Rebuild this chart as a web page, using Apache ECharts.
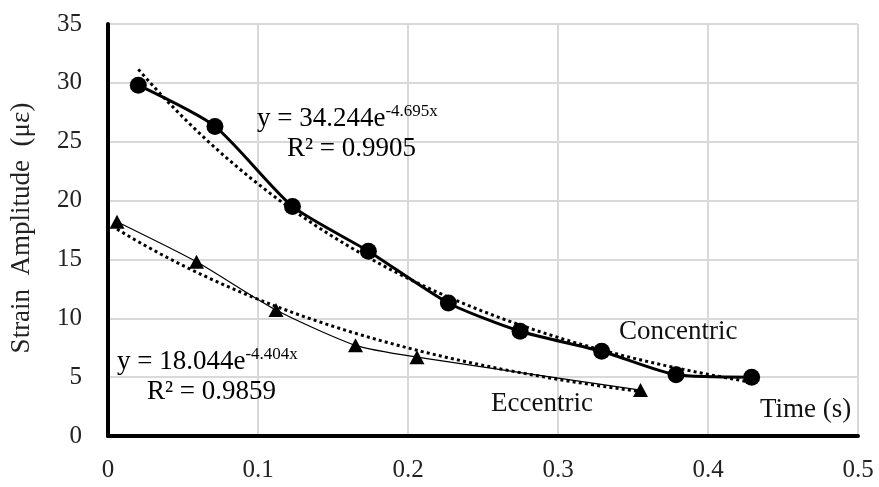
<!DOCTYPE html>
<html>
<head>
<meta charset="utf-8">
<script src="https://cdn.jsdelivr.net/npm/echarts@6/dist/echarts.min.js"></script>
<style>
  html, body { margin: 0; padding: 0; background: #fff; }
  #chart { width: 879px; height: 487px; }
</style>
</head>
<body>
<div id="chart"></div>
<script>
// Measured strain amplitude decay (με) against time (s)
const concTime   = [0.0202, 0.0713, 0.123, 0.1736, 0.2269, 0.2747, 0.3291, 0.3787, 0.4291];
const concStrain = [29.8, 26.3, 19.5, 15.7, 11.3, 8.9, 7.2, 5.2, 5.0];
const eccTime    = [0.006, 0.059, 0.112, 0.165, 0.206, 0.355];
const eccStrain  = [18.2, 14.8, 10.7, 7.7, 6.7, 3.9];

// Exponential trendline coefficients y = a·e^(b·x) and R²
const concFit = [34.244, -4.695, 0.9905];
const eccFit  = [18.044, -4.404, 0.9859];

const xTicks = [0, 0.1, 0.2, 0.3, 0.4, 0.5];
const yTicks = [0, 5, 10, 15, 20, 25, 30, 35];

const FONT = '"Liberation Serif", "Times New Roman", serif';

function pairs(xs, ys) { return xs.map((x, i) => [x, ys[i]]); }

// Trendline evaluated from its stated equation over the span of the data
function trend(fit, x0, x1) {
  const pts = [];
  const n = 60;
  for (let i = 0; i <= n; i++) {
    const x = x0 + (x1 - x0) * i / n;
    pts.push([x, fit[0] * Math.exp(fit[1] * x)]);
  }
  return pts;
}

const chart = echarts.init(document.getElementById('chart'));

const eqRich = {
  b: { fontFamily: FONT, fontSize: 27, color: '#111', lineHeight: 32 },
  s: { fontFamily: FONT, fontSize: 17, color: '#111', verticalAlign: 'top', lineHeight: 32, padding: [0, 0, 12, 0] }
};

const dotted = { color: '#000', width: 3, type: [3, 3.2], cap: 'butt' };

chart.setOption({
  animation: false,
  backgroundColor: '#fff',
  grid: { left: 108, right: 21, top: 24, bottom: 51, containLabel: false },
  xAxis: {
    type: 'value',
    min: xTicks[0], max: xTicks[xTicks.length - 1], interval: 0.1,
    axisLine: { show: true, onZero: false, lineStyle: { color: '#000', width: 4 } },
    axisTick: { show: false },
    splitLine: { show: true, lineStyle: { color: '#d9d9d9', width: 2 } },
    axisLabel: {
      fontFamily: FONT, fontSize: 25, color: '#222', margin: 22,
      formatter: v => String(+v.toFixed(1))
    }
  },
  yAxis: {
    type: 'value',
    min: yTicks[0], max: yTicks[yTicks.length - 1], interval: 5,
    axisLine: { show: true, onZero: false, lineStyle: { color: '#000', width: 4 } },
    axisTick: { show: false },
    splitLine: { show: true, lineStyle: { color: '#d9d9d9', width: 2 } },
    axisLabel: { fontFamily: FONT, fontSize: 25, color: '#222', margin: 26 }
  },
  series: [
    {
      name: 'Concentric',
      type: 'line',
      data: pairs(concTime, concStrain),
      smooth: 0.22,
      symbol: 'circle', symbolSize: 17,
      itemStyle: { color: '#000' },
      lineStyle: { color: '#000', width: 3 },
      z: 3
    },
    {
      name: 'Eccentric',
      type: 'line',
      data: pairs(eccTime, eccStrain),
      smooth: 0.22,
      symbol: 'triangle', symbolSize: [15, 14],
      itemStyle: { color: '#000' },
      lineStyle: { color: '#000', width: 1.2 },
      z: 3
    },
    {
      name: 'Concentric trend',
      type: 'line',
      data: trend(concFit, concTime[0], 0.425),
      showSymbol: false, symbol: 'none',
      lineStyle: dotted,
      z: 4
    },
    {
      name: 'Eccentric trend',
      type: 'line',
      data: trend(eccFit, eccTime[0], eccTime[eccTime.length - 1]),
      showSymbol: false, symbol: 'none',
      lineStyle: dotted,
      z: 4
    }
  ],
  graphic: [
    {
      type: 'text', left: 257, top: 103, z: 10,
      style: { text: '{b|y = ' + concFit[0].toFixed(3) + 'e}{s|' + concFit[1].toFixed(3) + 'x}', rich: eqRich }
    },
    {
      type: 'text', left: 287, top: 135, z: 10,
      style: { text: '{b|R² = ' + concFit[2].toFixed(4) + '}', rich: eqRich }
    },
    {
      type: 'text', left: 117, top: 346, z: 10,
      style: { text: '{b|y = ' + eccFit[0].toFixed(3) + 'e}{s|' + eccFit[1].toFixed(3) + 'x}', rich: eqRich }
    },
    {
      type: 'text', left: 147, top: 378, z: 10,
      style: { text: '{b|R² = ' + eccFit[2].toFixed(4) + '}', rich: eqRich }
    },
    {
      type: 'text', left: 619, top: 318, z: 10,
      style: { text: 'Concentric', fontFamily: FONT, fontSize: 27, fill: '#111' }
    },
    {
      type: 'text', left: 491, top: 390, z: 10,
      style: { text: 'Eccentric', fontFamily: FONT, fontSize: 27, fill: '#111' }
    },
    {
      type: 'text', left: 760, top: 396, z: 10,
      style: { text: 'Time (s)', fontFamily: FONT, fontSize: 27, fill: '#111' }
    },
    {
      type: 'text', x: 22, y: 228, rotation: Math.PI / 2, z: 10,
      style: {
        text: 'Strain  Amplitude  (με)', fontFamily: FONT, fontSize: 27, fill: '#222',
        align: 'center', verticalAlign: 'middle'
      }
    }
  ]
});
</script>
</body>
</html>
